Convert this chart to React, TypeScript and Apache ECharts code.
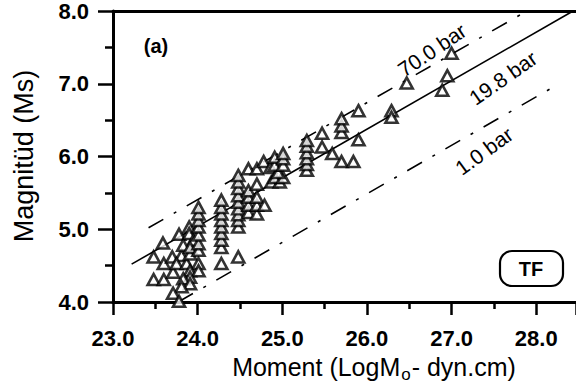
import React, { useEffect, useRef } from "react";
import * as echarts from "echarts";

// Axis ranges (Moment LogMo, Magnitude Ms)
const xRange = [23.0, 28.47];
const yRange = [4.0, 8.0];

// TF events: [LogMo, Ms]
const lowCluster: [number, number][] = [
  [23.48, 4.62], [23.59, 4.81], [23.48, 4.31], [23.6, 4.31], [23.6, 4.53],
  [23.71, 4.41], [23.7, 4.62], [23.81, 4.64], [23.75, 4.53], [23.87, 4.53],
  [23.91, 4.66], [24.01, 4.53], [23.91, 4.43], [24.01, 4.43], [23.91, 4.34],
  [23.83, 4.32], [23.91, 4.25], [23.81, 4.21], [23.71, 4.12], [23.78, 4.01],
  [23.78, 4.93], [23.9, 5.03], [23.9, 4.94], [23.95, 4.85], [23.83, 4.78],
  [23.91, 4.75],
];
const column24: [number, number][] = [
  [24.01, 4.71], [24.01, 4.8], [24.01, 4.92], [24.01, 5.03], [24.01, 5.12],
  [24.01, 5.21], [24.01, 5.3],
];
const column24_3: [number, number][] = [
  [24.28, 4.53], [24.28, 4.75], [24.28, 4.85], [24.28, 4.94], [24.28, 5.03],
  [24.28, 5.12], [24.28, 5.21], [24.28, 5.3], [24.28, 5.4],
];
const midCluster: [number, number][] = [
  [24.48, 4.62], [24.48, 5.03], [24.48, 5.12], [24.48, 5.2], [24.48, 5.28],
  [24.48, 5.37], [24.48, 5.46], [24.48, 5.56], [24.48, 5.65], [24.48, 5.74],
  [24.6, 5.23], [24.6, 5.33], [24.6, 5.44], [24.6, 5.53], [24.6, 5.83],
  [24.7, 5.21], [24.7, 5.33], [24.7, 5.44], [24.7, 5.62], [24.7, 5.83],
  [24.79, 5.33], [24.78, 5.93], [24.86, 5.85], [24.87, 5.65], [24.97, 5.65],
  [24.91, 5.71], [25.01, 5.71], [24.95, 5.78], [24.91, 5.88], [25.01, 5.88],
  [24.91, 5.99], [25.01, 5.97], [25.01, 6.04],
];
const highCluster: [number, number][] = [
  [25.29, 5.81], [25.29, 5.89], [25.29, 5.97], [25.29, 6.05], [25.29, 6.14],
  [25.29, 6.22], [25.47, 6.32], [25.47, 6.13], [25.59, 6.04], [25.7, 5.93],
  [25.84, 5.93], [25.7, 6.33], [25.7, 6.42], [25.7, 6.52], [25.9, 6.63],
  [25.9, 6.23], [26.29, 6.63], [26.29, 6.54], [26.47, 7.01], [26.89, 6.91],
  [26.95, 7.11], [27.0, 7.42],
];

// Constant stress-drop lines (slope 2/3)
const line70bar: [number, number][] = [[23.42, 5.02], [27.86, 7.98]];
const line19_8bar: [number, number][] = [[23.22, 4.52], [28.42, 7.99]];
const line1bar: [number, number][] = [[23.77, 4.0], [28.18, 6.94]];
const lineLabels = ["70.0 bar", "19.8 bar", "1.0 bar"];

const FONT = "'Liberation Sans', Arial, Helvetica, sans-serif";

export default function App() {
  const ref = useRef<HTMLDivElement>(null);
  useEffect(() => {
    if (!ref.current) return;
    const chart = echarts.init(ref.current, null, { renderer: "svg" });
    const dashDot = [17, 12, 3, 12];
    const lineSeries = (data: [number, number][], dash: any) => ({
      type: "line",
      data,
      symbol: "none",
      silent: true,
      lineStyle: { color: "#000", width: 1.6, type: dash },
      z: 2,
    });
    const label = (text: string, x: number, y: number, deg: number) => ({
      type: "text",
      x,
      y,
      rotation: (deg * Math.PI) / 180,
      style: {
        text,
        font: `21px ${FONT}`,
        fill: "#000",
        align: "center",
        verticalAlign: "middle",
      },
    });
    chart.setOption({
      animation: false,
      backgroundColor: "#fff",
      textStyle: { fontFamily: FONT },
      grid: { left: 113, right: 0, top: 10, bottom: 90 },
      xAxis: [
        {
          type: "value",
          min: xRange[0],
          max: xRange[1],
          interval: 1,
          axisLine: { show: true, onZero: false, lineStyle: { color: "#000", width: 3 } },
          axisTick: { show: true, inside: false, length: 13, lineStyle: { color: "#000", width: 2.5 } },
          minorTick: { show: true, splitNumber: 2, length: 7, lineStyle: { color: "#000", width: 2.5 } },
          axisLabel: {
            color: "#000",
            fontSize: 22,
            fontWeight: "bold",
            fontFamily: FONT,
            margin: 25,
            formatter: (v: number) => v.toFixed(1),
            showMaxLabel: false,
          },
          splitLine: { show: false },
        },
        {
          type: "value",
          position: "top",
          min: xRange[0],
          max: xRange[1],
          axisLine: { show: true, onZero: false, lineStyle: { color: "#000", width: 3 } },
          axisTick: { show: false },
          axisLabel: { show: false },
          splitLine: { show: false },
        },
      ],
      yAxis: {
        type: "value",
        min: yRange[0],
        max: yRange[1],
        interval: 1,
        axisLine: { show: true, onZero: false, lineStyle: { color: "#000", width: 3 } },
        axisTick: { show: true, length: 15, lineStyle: { color: "#000", width: 2.5 } },
        minorTick: { show: true, splitNumber: 2, length: 8, lineStyle: { color: "#000", width: 2.5 } },
        axisLabel: {
          color: "#000",
          fontSize: 22,
          fontWeight: "bold",
          fontFamily: FONT,
          margin: 24,
          formatter: (v: number) => v.toFixed(1),
        },
        splitLine: { show: false },
      },
      series: [
        lineSeries(line70bar, dashDot),
        lineSeries(line19_8bar, "solid"),
        lineSeries(line1bar, dashDot),
        {
          type: "scatter",
          data: [...lowCluster, ...column24, ...column24_3, ...midCluster, ...highCluster],
          symbol: "triangle",
          symbolSize: [12, 11],
          itemStyle: { color: "#fff", borderColor: "#000", borderWidth: 2.6 },
          z: 3,
        },
      ],
      graphic: [
        {
          type: "text",
          x: 156,
          y: 46,
          style: {
            text: "(a)",
            font: `bold 20px ${FONT}`,
            fill: "#000",
            align: "center",
            verticalAlign: "middle",
          },
        },
        label(lineLabels[0], 432, 50, 34),
        label(lineLabels[1], 503, 78, 35),
        label(lineLabels[2], 484, 151, 36),
        {
          type: "rect",
          shape: { x: 500, y: 251, width: 63, height: 35, r: 12 },
          style: { fill: "#fff", stroke: "#000", lineWidth: 2.2 },
          z: 10,
        },
        {
          type: "text",
          x: 531,
          y: 269,
          z: 11,
          style: {
            text: "TF",
            font: `bold 20px ${FONT}`,
            fill: "#000",
            align: "center",
            verticalAlign: "middle",
          },
        },
        {
          type: "text",
          x: 374,
          y: 367,
          style: {
            text: "Moment (LogM{sub|o}- dyn.cm)",
            font: `25px ${FONT}`,
            fill: "#000",
            align: "center",
            verticalAlign: "middle",
            rich: {
              sub: { fontSize: 17, fontFamily: FONT, fill: "#000", padding: [14, 1, 0, 1] },
            },
          },
        },
        {
          type: "text",
          x: 24,
          y: 156,
          rotation: Math.PI / 2,
          style: {
            text: "Magnitüd (Ms)",
            font: `27px ${FONT}`,
            fill: "#000",
            align: "center",
            verticalAlign: "middle",
          },
        },
      ],
    });
    return () => chart.dispose();
  }, []);
  return (
    <div
      ref={ref}
      style={{ position: "fixed", left: 0, top: 0, width: 576, height: 392, background: "#fff" }}
    />
  );
}
